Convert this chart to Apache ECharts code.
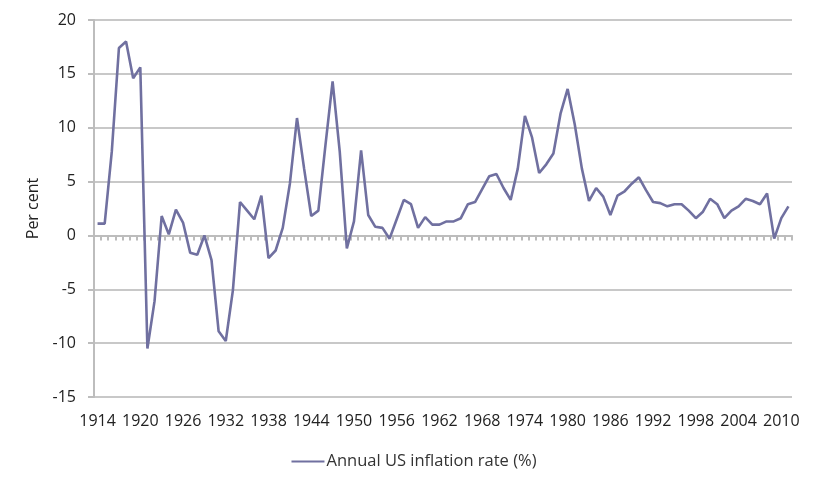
<!DOCTYPE html>
<html>
<head>
<meta charset="utf-8">
<script src="https://cdn.jsdelivr.net/npm/echarts@6/dist/echarts.min.js"></script>
<style>
  html, body { margin: 0; padding: 0; background: #fff; }
  #chart { width: 828px; height: 479px; }
</style>
</head>
<body>
<div id="chart"></div>
<script>
// years 1914 .. 2011
const years = [];
for (let y = 1914; y <= 2011; y++) years.push(String(y));

// annual US inflation rate (%)
const inflation = [
  1.1, 1.1, 7.8, 17.4, 18.0, 14.6, 15.6, -10.5, -6.1, 1.8,   // 1914-1923
  0.1, 2.4, 1.2, -1.6, -1.8, 0.0, -2.3, -8.9, -9.8, -5.1,    // 1924-1933
  3.1, 2.3, 1.5, 3.7, -2.1, -1.4, 0.7, 4.8, 10.9, 6.2,       // 1934-1943
  1.8, 2.3, 8.4, 14.3, 7.8, -1.2, 1.3, 7.9, 1.9, 0.8,        // 1944-1953
  0.7, -0.3, 1.5, 3.3, 2.9, 0.7, 1.7, 1.0, 1.0, 1.3,         // 1954-1963
  1.3, 1.6, 2.9, 3.1, 4.3, 5.5, 5.7, 4.4, 3.3, 6.2,          // 1964-1973
  11.1, 9.1, 5.8, 6.6, 7.6, 11.3, 13.6, 10.3, 6.2, 3.2,      // 1974-1983
  4.4, 3.6, 1.9, 3.7, 4.1, 4.8, 5.4, 4.2, 3.1, 3.0,          // 1984-1993
  2.7, 2.9, 2.9, 2.3, 1.6, 2.2, 3.4, 2.9, 1.6, 2.3,          // 1994-2003
  2.7, 3.4, 3.2, 2.9, 3.9, -0.3, 1.6, 2.7                    // 2004-2011
];

const yTicks = { min: -15, max: 20, interval: 5 };
const seriesName = 'Annual US inflation rate (%)';

const chart = echarts.init(document.getElementById('chart'));

const labelFont = 'Open Sans, Noto Sans, sans-serif';

const option = {
  animation: false,
  grid: { left: 94, right: 36, top: 20, bottom: 82 },
  legend: {
    bottom: 4,
    left: 'center',
    icon: 'rect',
    itemWidth: 33,
    itemHeight: 2,
    itemGap: 2,
    textStyle: { color: '#333', fontSize: 16.5, fontFamily: labelFont, padding: [0, 0, 0, -3] },
    data: [seriesName]
  },
  xAxis: [
    {
      // tick marks sitting on the zero line
      type: 'category',
      data: years,
      boundaryGap: true,
      axisLine: { onZero: true, onZeroAxisIndex: 0, lineStyle: { color: '#bdbdbd', width: 2 } },
      axisTick: { show: true, interval: 0, length: 5, lineStyle: { color: '#bcbcbc', width: 2 } },
      axisLabel: { show: false }
    },
    {
      // year labels along the bottom
      type: 'category',
      position: 'bottom',
      data: years,
      boundaryGap: true,
      axisLine: { onZero: false, show: false },
      axisTick: { show: false },
      axisLabel: {
        interval: 5,
        color: '#222',
        fontSize: 16,
        fontFamily: labelFont,
        margin: 16
      }
    }
  ],
  yAxis: {
    type: 'value',
    min: yTicks.min,
    max: yTicks.max,
    interval: yTicks.interval,
    name: 'Per cent',
    nameLocation: 'middle',
    nameGap: 47,
    nameTextStyle: { color: '#222', fontSize: 16, fontFamily: labelFont },
    axisLine: { show: true, lineStyle: { color: '#bdbdbd', width: 2 } },
    axisTick: { show: true, length: 6, lineStyle: { color: '#bdbdbd', width: 2 } },
    axisLabel: { color: '#222', fontSize: 16, fontFamily: labelFont, margin: 18 },
    splitLine: { lineStyle: { color: '#c8c8c8', width: 2 } }
  },
  series: [
    {
      name: seriesName,
      type: 'line',
      xAxisIndex: 0,
      data: inflation,
      symbol: 'none',
      lineStyle: { color: '#7070a0', width: 2.6 },
      itemStyle: { color: '#7070a0' }
    }
  ]
};

chart.setOption(option);
</script>
</body>
</html>
